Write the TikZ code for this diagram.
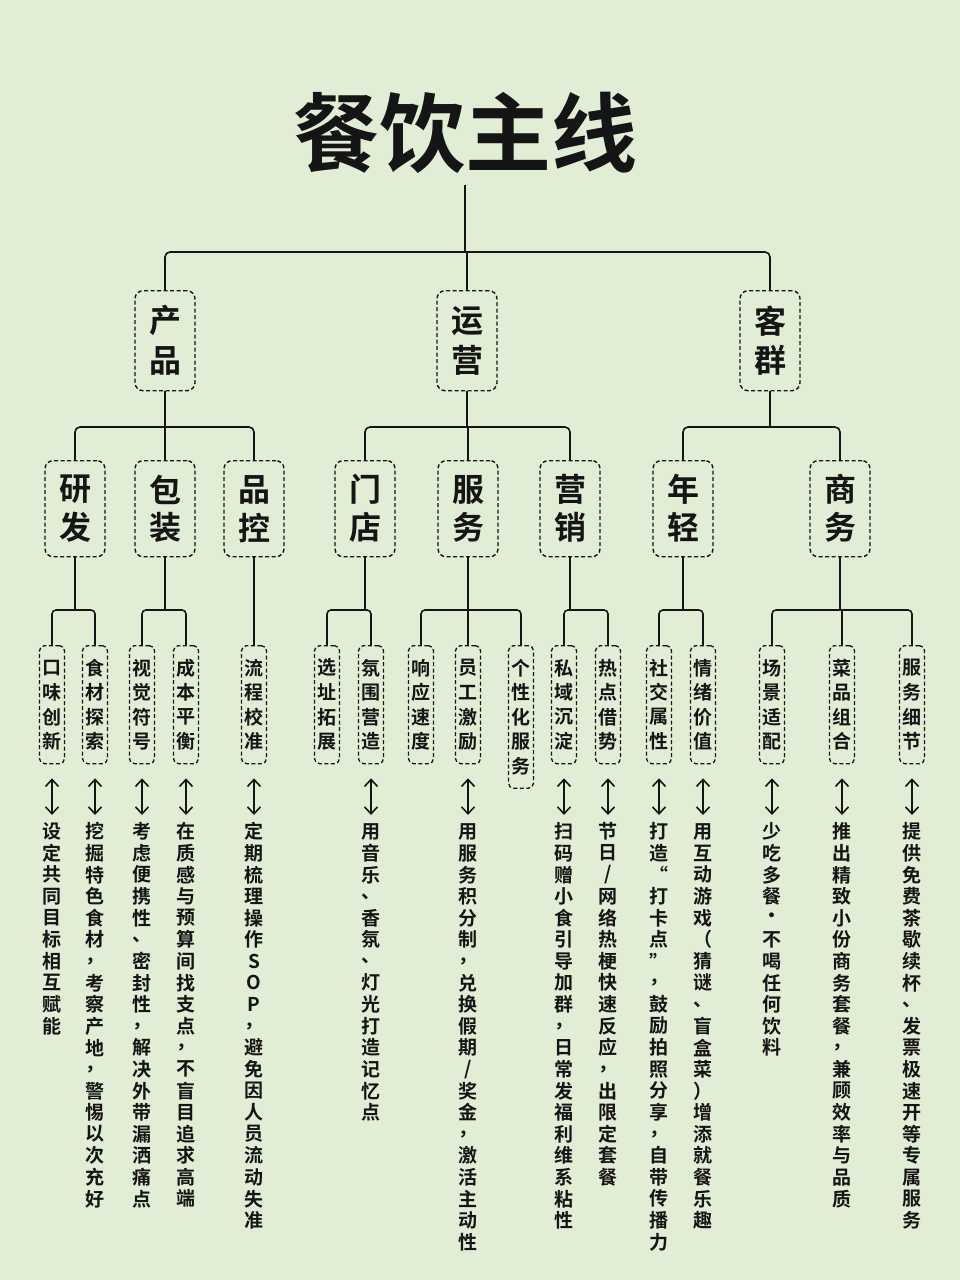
\documentclass[tikz,border=0pt]{standalone}
\usepackage{fontspec}
\setmainfont{Noto Sans CJK SC}[BoldFont={Noto Sans CJK SC Bold}]
\usetikzlibrary{arrows.meta}
\definecolor{bg}{HTML}{E2EDD6}
\definecolor{ink}{HTML}{151515}
\def\sla{/}
\makeatletter
\newcommand\vtxt[2]{\vbox{\offinterlineskip\def\vt@p{#1}\expandafter\vt@loop#2\relax}}
\def\vt@loop#1{\ifx\relax#1\else\vbox to \vt@p pt{\vss\hbox to 1.05em{\hss#1\hss}\vss}\expandafter\vt@loop\fi}
\makeatother
\begin{document}
\begin{tikzpicture}[x=1pt,y=-1pt,line width=1.6pt,draw=ink,
  box/.style={draw=ink,dashed,dash pattern=on 4pt off 2.5pt,rounded corners=8pt,line width=1.4pt,minimum width=60pt,inner xsep=0pt,inner ysep=10pt,font=\fontsize{32}{32}\bfseries,text=ink},
  sbox/.style={draw=ink,dashed,dash pattern=on 4pt off 2.5pt,rounded corners=5pt,line width=1.3pt,inner xsep=2.5pt,inner ysep=10pt,anchor=north,font=\fontsize{19}{19}\bfseries,text=ink},
  desc/.style={anchor=north,inner sep=0pt,font=\fontsize{19}{19}\bfseries,text=ink},
  arr/.style={{Straight Barb[length=7pt,width=13pt]}-{Straight Barb[length=7pt,width=13pt]},line width=1.6pt}]
\fill[bg] (0,0) rectangle (960,1280);
\useasboundingbox (0,0) rectangle (960,1280);
\node[font=\fontsize{86}{86}\bfseries,text=ink,inner sep=0pt] (title) at (465,133) {餐饮主线};
\coordinate (h0) at (0,252);
\coordinate (h1) at (0,427);
\coordinate (h2) at (0,610);
% level 1
\node[box,anchor=north] (a) at (165,290) {\vtxt{40}{产品}};
\node[box,anchor=north] (b) at (467,290) {\vtxt{40}{运营}};
\node[box,anchor=north] (c) at (770,290) {\vtxt{40}{客群}};
\draw (title.south)++(0,10) -- (465,252);
\draw[rounded corners=5pt] (a.north) |- (c.north |- h0) -- (c.north);
\draw (b.north) -- (b.north |- h0);
% level 2
\foreach \n/\x/\t in {a1/75/研发,a2/165/包装,a3/254/品控,b1/365/门店,b2/468/服务,b3/570/营销,c1/683/年轻,c2/840/商务}
  \node[box,anchor=north] (\n) at (\x,460) {\vtxt{38}{\t}};
\draw (a.south) -- (a.south |- h1);
\draw[rounded corners=5pt] (a1.north) |- (a3.north |- h1) -- (a3.north);
\draw (a2.north) -- (a2.north |- h1);
\draw (b.south) -- (b.south |- h1);
\draw[rounded corners=5pt] (b1.north) |- (b3.north |- h1) -- (b3.north);
\draw (b2.north) -- (b2.north |- h1);
\draw (c.south) -- (c.south |- h1);
\draw[rounded corners=5pt] (c1.north) |- (c2.north |- h1) -- (c2.north);
% level 3
\foreach \n/\x/\t in {p1/52/口味创新,p2/95/食材探索,p3/142/视觉符号,p4/186/成本平衡,p5/254/流程校准,
  q1/327/选址拓展,q2/371/氛围营造,q3/421/响应速度,q4/468/员工激励,q5/521/个性化服务,q6/564/私域沉淀,q7/608/热点借势,
  r1/659/社交属性,r2/703/情绪价值,r3/772/场景适配,r4/842/菜品组合,r5/912/服务细节}
  \node[sbox] (\n) at (\x,645) {\vtxt{24.5}{\t}};
\foreach \p/\u/\v in {a1/p1/p2,a2/p3/p4,b1/q1/q2,b2/q3/q5,b3/q6/q7,c1/r1/r2,c2/r3/r5}{
  \draw (\p.south) -- (\p.south |- h2);
  \draw[rounded corners=4pt] (\u.north) |- (\v.north |- h2) -- (\v.north);
}
\draw (a3.south) -- (p5.north);
\draw (q4.north) -- (q4.north |- h2);
\draw (r4.north) -- (r4.north |- h2);
% descriptions
\foreach \n/\t in {p1/设定共同目标相互赋能,p2/挖掘特色食材，考察产地，警惕以次充好,p3/考虑便携性、密封性，解决外带漏洒痛点,
  p4/在质感与预算间找支点，不盲目追求高端,p5/定期梳理操作SOP，避免因人员流动失准,q2/用音乐、香氛、灯光打造记忆点,
  q4/用服务积分制，兑换假期\sla 奖金，激活主动性,q6/扫码赠小食引导加群，日常发福利维系粘性,q7/节日\sla 网络热梗快速反应，出限定套餐,
  r1/打造“打卡点”，鼓励拍照分享，自带传播力,r2/用互动游戏（猜谜、盲盒菜）增添就餐乐趣,r3/少吃多餐·不喝任何饮料,
  r4/推出精致小份商务套餐，兼顾效率与品质,r5/提供免费茶歇续杯、发票极速开等专属服务}{
  \node[desc] (d\n) at (\n.south |- 0,820) {\vtxt{21.6}{\t}};
  \draw[arr] ([yshift=-14pt]\n.south) -- ([yshift=5pt]d\n.north);
}
\end{tikzpicture}
\end{document}
